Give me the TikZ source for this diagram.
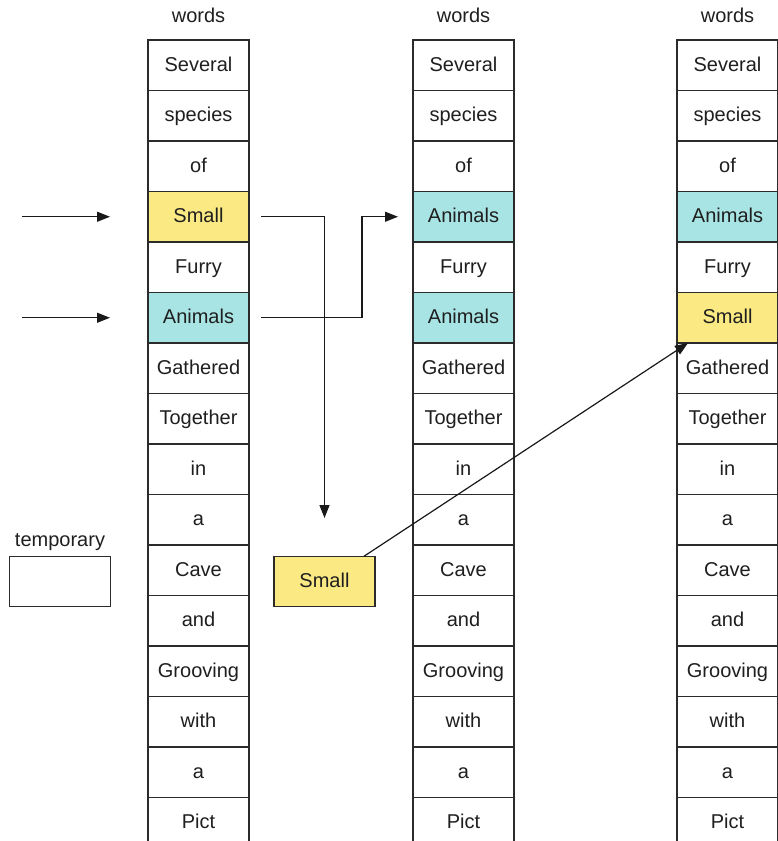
\documentclass[tikz,border=0pt]{standalone}
\usepackage{fontspec}
\setmainfont{Liberation Sans}
\usetikzlibrary{arrows.meta}
\definecolor{hlY}{HTML}{FBE983}
\definecolor{hlC}{HTML}{A8E4E4}
\definecolor{ln}{HTML}{2B2B2B}
\begin{document}
\begin{tikzpicture}[x=1pt,y=-1pt,
  cell/.style={minimum width=101pt, minimum height=50.5pt, inner sep=0pt, outer sep=0pt, text height=14pt, text depth=2pt, font=\fontsize{20}{24}\selectfont, text=black!88},
  lbl/.style={inner sep=0pt, text height=14pt, text depth=2pt, font=\fontsize{20}{24}\selectfont, text=black!88},
  border/.style={draw=ln, line width=1.3pt},
  arr/.style={draw=black!90, line width=1.2pt, -{Triangle[length=13pt,width=10pt]}}]
\useasboundingbox (0,0) rectangle (778,841);
\clip (0,0) rectangle (778,841);
% column 1
\node[lbl] (h1) at (198.5,16) {words};
\foreach \w/\f [count=\i from 0] in {Several/white,species/white,of/white,Small/hlY,Furry/white,Animals/hlC,Gathered/white,Together/white,in/white,a/white,Cave/white,and/white,Grooving/white,with/white,a/white,Pict/white}
  \node[cell, fill=\f] (c1r\i) at (198.5,{65.25+50.5*\i}) {\w};
% column 2
\node[lbl] (h2) at (463.5,16) {words};
\foreach \w/\f [count=\i from 0] in {Several/white,species/white,of/white,Animals/hlC,Furry/white,Animals/hlC,Gathered/white,Together/white,in/white,a/white,Cave/white,and/white,Grooving/white,with/white,a/white,Pict/white}
  \node[cell, fill=\f] (c2r\i) at (463.5,{65.25+50.5*\i}) {\w};
% column 3
\node[lbl] (h3) at (727.5,16) {words};
\foreach \w/\f [count=\i from 0] in {Several/white,species/white,of/white,Animals/hlC,Furry/white,Small/hlY,Gathered/white,Together/white,in/white,a/white,Cave/white,and/white,Grooving/white,with/white,a/white,Pict/white}
  \node[cell, fill=\f] (c3r\i) at (727.5,{65.25+50.5*\i}) {\w};
% borders
\foreach \c in {1,2,3}
  \foreach \i in {0,...,15}
    \draw[border] (c\c r\i.north west) rectangle (c\c r\i.south east);
% temporary
\node[lbl] (tl) at (60,540) {temporary};
\node[cell, fill=white, border] (tmpE) at (60,581.5) {};
\node[cell, fill=hlY, border] (tmpS) at (324.5,581.5) {Small};
% connectors
\coordinate (in1) at (22,216.75);
\coordinate (in2) at (22,317.75);
\draw[arr] (in1) -- ([xshift=-38pt]c1r3.west);
\draw[arr] (in2) -- ([xshift=-38pt]c1r5.west);
\coordinate (d1) at (324.5,518);
\draw[arr] ([xshift=12pt]c1r3.east) -| (d1);
\coordinate (k2) at (362,317.75);
\draw[arr] ([xshift=12pt]c1r5.east) -- (k2) |- ([xshift=-15pt]c2r3.west);
\draw[arr] ([xshift=-11pt]tmpS.north east) -- ([xshift=11pt]c3r5.south west);
\end{tikzpicture}
\end{document}
